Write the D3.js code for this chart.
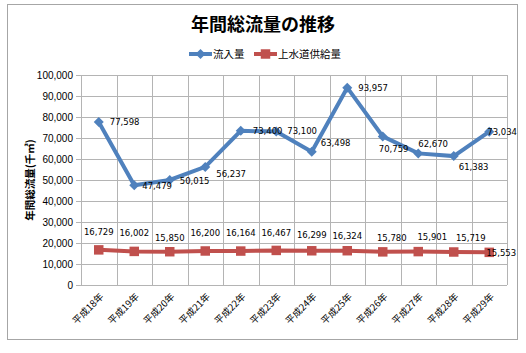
<!DOCTYPE html>
<html><head><meta charset="utf-8">
<script src="https://cdn.jsdelivr.net/npm/d3@7"></script>
<style>body{margin:0;background:#fff}svg{display:block}</style>
</head><body>
<svg id="c" width="526" height="353"></svg>
<script>
const categories = ["平成18年","平成19年","平成20年","平成21年","平成22年","平成23年","平成24年","平成25年","平成26年","平成27年","平成28年","平成29年"];
const inflow = [77598,47479,50015,56237,73400,73100,63498,93957,70759,62670,61383,73034];
const supply = [16729,16002,15850,16200,16164,16467,16299,16324,15780,15901,15719,15553];
const yTicks = [0,10000,20000,30000,40000,50000,60000,70000,80000,90000,100000];
const seriesNames = ["流入量","上水道供給量"];
// label offsets (layout only)
const inflowLabelOff = [[11,0],[8,1],[10,1],[11,7],[12,0],[11,0],[9,-9],[11,0],[-4,13],[0,-9],[5,11],[-2,0]];
const supplyLabelOff = [[0,-18],[0,-18],[0,-14],[0,-18],[0,-18],[0,-17],[0,-16],[0,-15],[9,-14],[14,-15],[17,-14],[12,1]];

const svg = d3.select("#c");
const L=81,R=507,T=75,B=285;
const blue="#4F81BD", red="#C0504D", grid="#B4B4B4";
const cjk="'Noto Sans CJK JP','Noto Sans CJK SC',sans-serif";

svg.append("rect").attr("x",7.5).attr("y",4.5).attr("width",510).attr("height",335)
  .attr("fill","#fff").attr("stroke","#A6A6A6").attr("stroke-width",1);

const x = d3.scaleBand().domain(categories).range([L,R]).padding(0);
const y = d3.scaleLinear().domain([0,100000]).range([B,T]);
const cx = c => x(c)+x.bandwidth()/2;

// grid
svg.append("g").selectAll("line").data(yTicks).join("line")
  .attr("x1",L-5).attr("x2",R).attr("y1",d=>Math.round(y(d))+0.5).attr("y2",d=>Math.round(y(d))+0.5)
  .attr("stroke",grid).attr("stroke-width",1);
const bounds = categories.map(c=>x(c)).concat([R]);
svg.append("g").selectAll("line").data(bounds).join("line")
  .attr("x1",d=>Math.round(d)+0.5).attr("x2",d=>Math.round(d)+0.5).attr("y1",T).attr("y2",B)
  .attr("stroke",grid).attr("stroke-width",1);

// y tick labels
svg.append("g").selectAll("text").data(yTicks).join("text")
  .attr("x",73).attr("y",d=>y(d)).attr("dy","0.35em").attr("text-anchor","end")
  .attr("font-family","'Liberation Sans',Arial,sans-serif").attr("font-size",10).attr("fill","#000")
  .text(d=>d3.format(",")(d));

// x labels
svg.append("g").selectAll("text").data(categories).join("text")
  .attr("transform",d=>`translate(${cx(d)+3},${B+10}) rotate(-45)`)
  .attr("text-anchor","end").attr("dy","0.35em")
  .attr("font-family",cjk).attr("font-size",9.5).attr("fill","#000")
  .text(d=>d);

// y title
svg.append("text").attr("transform","translate(30,180) rotate(-90)")
  .attr("text-anchor","middle").attr("dy","0.35em")
  .attr("font-family",cjk).attr("font-size",10.5).attr("font-weight",700)
  .text("年間総流量(千㎥)");

// title
svg.append("text").attr("x",263).attr("y",25).attr("dy","0.35em").attr("text-anchor","middle")
  .attr("font-family",cjk).attr("font-size",18).attr("font-weight",700).text("年間総流量の推移");

// lines
const line = d3.line().x((d,i)=>cx(categories[i])).y(d=>y(d));
svg.append("path").datum(supply).attr("d",line).attr("fill","none").attr("stroke",red).attr("stroke-width",4);
svg.append("path").datum(inflow).attr("d",line).attr("fill","none").attr("stroke",blue).attr("stroke-width",4);

const diamond = d3.symbol().type(d3.symbolSquare).size(50);
const square = d3.symbol().type(d3.symbolSquare).size(90);
svg.append("g").selectAll("path").data(supply).join("path")
  .attr("transform",(d,i)=>`translate(${cx(categories[i])},${y(d)})`).attr("d",square).attr("fill",red);
svg.append("g").selectAll("path").data(inflow).join("path")
  .attr("transform",(d,i)=>`translate(${cx(categories[i])},${y(d)}) rotate(45)`).attr("d",diamond).attr("fill",blue);

// data labels
const lblFont="'DejaVu Sans',Verdana,sans-serif";
svg.append("g").selectAll("text").data(inflow).join("text")
  .attr("x",(d,i)=>cx(categories[i])+inflowLabelOff[i][0]).attr("y",(d,i)=>y(d)+inflowLabelOff[i][1])
  .attr("dy","0.35em").attr("text-anchor","start")
  .attr("font-family",lblFont).attr("font-size",8.5).attr("fill","#000")
  .text(d=>d3.format(",")(d));
svg.append("g").selectAll("text").data(supply).join("text")
  .attr("x",(d,i)=>cx(categories[i])+supplyLabelOff[i][0]).attr("y",(d,i)=>y(d)+supplyLabelOff[i][1])
  .attr("dy","0.35em").attr("text-anchor","middle")
  .attr("font-family",lblFont).attr("font-size",8.5).attr("fill","#000")
  .text(d=>d3.format(",")(d));

// legend
const lg = svg.append("g");
const legendItems = [{name:seriesNames[0],color:blue,sym:diamond,rot:45,x:189},{name:seriesNames[1],color:red,sym:square,rot:0,x:254}];
legendItems.forEach(it=>{
  lg.append("line").attr("x1",it.x).attr("x2",it.x+23).attr("y1",54).attr("y2",54).attr("stroke",it.color).attr("stroke-width",4);
  lg.append("path").attr("transform",`translate(${it.x+11.5},54) rotate(${it.rot})`).attr("d",it.sym).attr("fill",it.color);
  lg.append("text").attr("x",it.x+24).attr("y",54).attr("dy","0.35em")
    .attr("font-family",cjk).attr("font-size",10.5).attr("fill","#000").text(it.name);
});
</script>
</body></html>
